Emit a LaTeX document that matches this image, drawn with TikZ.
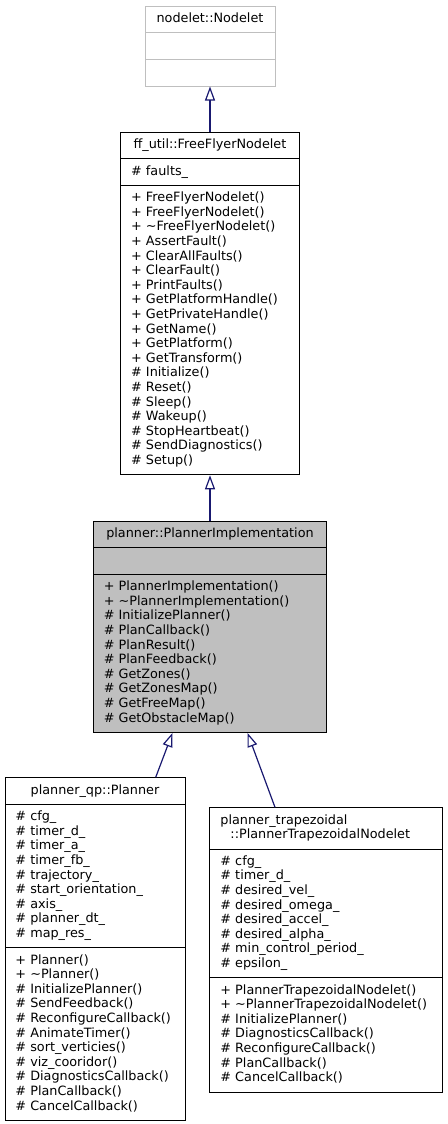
\documentclass[tikz,border=0pt]{standalone}
\usepackage{fontspec}
\setmainfont{DejaVu Sans}
\usepackage{tikz}
\usetikzlibrary{shapes.multipart, arrows.meta}

\definecolor{edgeblue}{HTML}{191970}
\definecolor{greyfill}{HTML}{BFBFBF}

% one compartment of a class box: a fixed width, one strut per row
\newlength{\rowwidth}
\newcommand{\classrows}[2][l]{\makebox[\rowwidth][#1]{\begin{tabular}{@{}l@{}}#2\end{tabular}}}

\begin{document}
\begin{tikzpicture}[x=1pt, y=-1pt,
class box/.style = {rectangle split, rectangle split parts=3, draw=black, line width=1pt,
  fill=white, anchor=north, inner xsep=10.5pt, inner ysep=5.5pt,
  font=\fontsize{12.8}{14.6}\selectfont},
box width/.code = {\setlength{\rowwidth}{#1}},
inherit/.style = {edgeblue, line width=1.2pt, -{Triangle[length=14pt, width=10pt, fill=white]}}
]

\useasboundingbox (0,0) rectangle (447,1124);

\node (nodelet) at (210,5.7) [class box, draw=greyfill, box width=109pt]
  {\classrows[c]{nodelet::Nodelet}
   \nodepart{two}\classrows{\mbox{}}
   \nodepart{three}\classrows{\mbox{}}};

\node (ffn) at (210,131.7) [class box, box width=157.6pt]
  {\classrows[c]{ff\_util::FreeFlyerNodelet}
   \nodepart{two}\classrows{\# faults\_}
   \nodepart{three}\classrows{+ FreeFlyerNodelet()\\+ FreeFlyerNodelet()\\
     + \textasciitilde FreeFlyerNodelet()\\+ AssertFault()\\+ ClearAllFaults()\\
     + ClearFault()\\+ PrintFaults()\\+ GetPlatformHandle()\\+ GetPrivateHandle()\\
     + GetName()\\+ GetPlatform()\\+ GetTransform()\\\# Initialize()\\\# Reset()\\
     \# Sleep()\\\# Wakeup()\\\# StopHeartbeat()\\\# SendDiagnostics()\\\# Setup()}};

\node (impl) at (210,520.7) [class box, fill=greyfill, box width=212.4pt]
  {\classrows[c]{planner::PlannerImplementation}
   \nodepart{two}\classrows{\mbox{}}
   \nodepart{three}\classrows{+ PlannerImplementation()\\+ \textasciitilde PlannerImplementation()\\
     \# InitializePlanner()\\\# PlanCallback()\\\# PlanResult()\\\# PlanFeedback()\\
     \# GetZones()\\\# GetZonesMap()\\\# GetFreeMap()\\\# GetObstacleMap()}};

\node (qp) at (95,777.3) [class box, box width=159pt]
  {\classrows[c]{planner\_qp::Planner}
   \nodepart{two}\classrows{\# cfg\_\\\# timer\_d\_\\\# timer\_a\_\\\# timer\_fb\_\\
     \# trajectory\_\\\# start\_orientation\_\\\# axis\_\\\# planner\_dt\_\\\# map\_res\_}
   \nodepart{three}\classrows{+ Planner()\\+ \textasciitilde Planner()\\\# InitializePlanner()\\
     \# SendFeedback()\\\# ReconfigureCallback()\\\# AnimateTimer()\\\# sort\_verticies()\\
     \# viz\_cooridor()\\\# DiagnosticsCallback()\\\# PlanCallback()\\\# CancelCallback()}};

\node (trap) at (326.3,807.3) [class box, box width=211.7pt]
  {\classrows{planner\_trapezoidal\\\hspace*{10pt}::PlannerTrapezoidalNodelet}
   \nodepart{two}\classrows{\# cfg\_\\\# timer\_d\_\\\# desired\_vel\_\\\# desired\_omega\_\\
     \# desired\_accel\_\\\# desired\_alpha\_\\\# min\_control\_period\_\\\# epsilon\_}
   \nodepart{three}\classrows{+ PlannerTrapezoidalNodelet()\\+ \textasciitilde PlannerTrapezoidalNodelet()\\
     \# InitializePlanner()\\\# DiagnosticsCallback()\\\# ReconfigureCallback()\\
     \# PlanCallback()\\\# CancelCallback()}};

\draw[inherit] (ffn.north) -- (nodelet.south);
\draw[inherit] (impl.north) -- (ffn.south);
\draw[inherit] ([xshift=60.7pt]qp.north) -- ([xshift=-37.5pt]impl.south);
\draw[inherit] ([xshift=-51.3pt]trap.north) -- ([xshift=37.5pt]impl.south);
\end{tikzpicture}
\end{document}
